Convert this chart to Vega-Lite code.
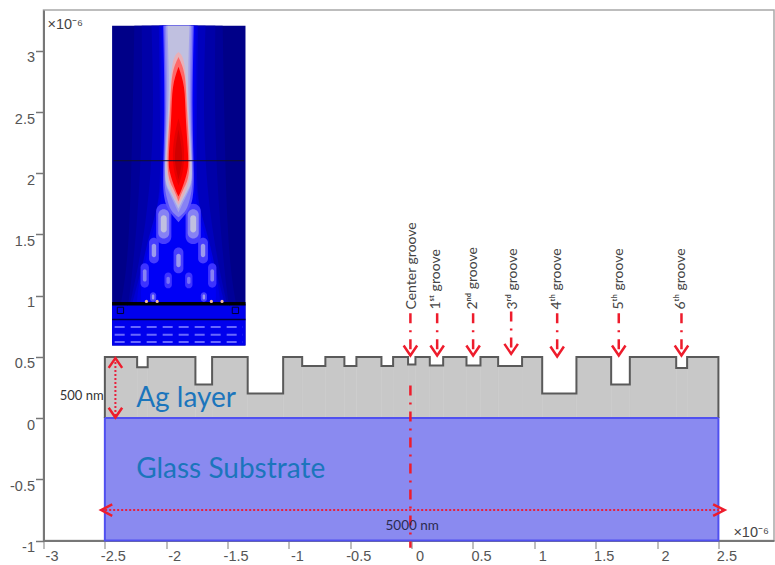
{"$schema":"https://vega.github.io/schema/vega-lite/v6.json","width":730.5,"height":530.5,"autosize":{"type":"none"},"padding":{"left":43.5,"top":10,"right":1,"bottom":24.5},"background":"#ffffff","config":{"view":{"stroke":"#a8a8a8","strokeWidth":1.5}},
"datasets":{
"glass":[{"x":-2.5,"x2":2.5,"y":-1,"y2":0}],
"silver":[{"x":-2.5,"x2":-2.237,"y":0.5,"y2":0},{"x":-2.237,"x2":-2.151,"y":0.416,"y2":0},{"x":-2.151,"x2":-1.762,"y":0.5,"y2":0},{"x":-1.762,"x2":-1.626,"y":0.275,"y2":0},{"x":-1.626,"x2":-1.336,"y":0.5,"y2":0},{"x":-1.336,"x2":-1.047,"y":0.2,"y2":0},{"x":-1.047,"x2":-0.892,"y":0.5,"y2":0},{"x":-0.892,"x2":-0.703,"y":0.425,"y2":0},{"x":-0.703,"x2":-0.548,"y":0.5,"y2":0},{"x":-0.548,"x2":-0.45,"y":0.425,"y2":0},{"x":-0.45,"x2":-0.246,"y":0.5,"y2":0},{"x":-0.246,"x2":-0.151,"y":0.425,"y2":0},{"x":-0.151,"x2":-0.029,"y":0.5,"y2":0},{"x":-0.029,"x2":0.031,"y":0.438,"y2":0},{"x":0.031,"x2":0.148,"y":0.5,"y2":0},{"x":0.148,"x2":0.257,"y":0.43,"y2":0},{"x":0.257,"x2":0.447,"y":0.5,"y2":0},{"x":0.447,"x2":0.561,"y":0.43,"y2":0},{"x":0.561,"x2":0.705,"y":0.5,"y2":0},{"x":0.705,"x2":0.9,"y":0.425,"y2":0},{"x":0.9,"x2":1.064,"y":0.5,"y2":0},{"x":1.064,"x2":1.343,"y":0.2,"y2":0},{"x":1.343,"x2":1.626,"y":0.5,"y2":0},{"x":1.626,"x2":1.778,"y":0.275,"y2":0},{"x":1.778,"x2":2.156,"y":0.5,"y2":0},{"x":2.156,"x2":2.245,"y":0.41,"y2":0},{"x":2.245,"x2":2.5,"y":0.5,"y2":0}],
"profile":[{"k":0,"x":-2.5,"y":0},{"k":1,"x":-2.5,"y":0.5},{"k":2,"x":-2.237,"y":0.5},{"k":3,"x":-2.237,"y":0.416},{"k":4,"x":-2.151,"y":0.416},{"k":5,"x":-2.151,"y":0.5},{"k":6,"x":-1.762,"y":0.5},{"k":7,"x":-1.762,"y":0.275},{"k":8,"x":-1.626,"y":0.275},{"k":9,"x":-1.626,"y":0.5},{"k":10,"x":-1.336,"y":0.5},{"k":11,"x":-1.336,"y":0.2},{"k":12,"x":-1.047,"y":0.2},{"k":13,"x":-1.047,"y":0.5},{"k":14,"x":-0.892,"y":0.5},{"k":15,"x":-0.892,"y":0.425},{"k":16,"x":-0.703,"y":0.425},{"k":17,"x":-0.703,"y":0.5},{"k":18,"x":-0.548,"y":0.5},{"k":19,"x":-0.548,"y":0.425},{"k":20,"x":-0.45,"y":0.425},{"k":21,"x":-0.45,"y":0.5},{"k":22,"x":-0.246,"y":0.5},{"k":23,"x":-0.246,"y":0.425},{"k":24,"x":-0.151,"y":0.425},{"k":25,"x":-0.151,"y":0.5},{"k":26,"x":-0.029,"y":0.5},{"k":27,"x":-0.029,"y":0.438},{"k":28,"x":0.031,"y":0.438},{"k":29,"x":0.031,"y":0.5},{"k":30,"x":0.148,"y":0.5},{"k":31,"x":0.148,"y":0.43},{"k":32,"x":0.257,"y":0.43},{"k":33,"x":0.257,"y":0.5},{"k":34,"x":0.447,"y":0.5},{"k":35,"x":0.447,"y":0.43},{"k":36,"x":0.561,"y":0.43},{"k":37,"x":0.561,"y":0.5},{"k":38,"x":0.705,"y":0.5},{"k":39,"x":0.705,"y":0.425},{"k":40,"x":0.9,"y":0.425},{"k":41,"x":0.9,"y":0.5},{"k":42,"x":1.064,"y":0.5},{"k":43,"x":1.064,"y":0.2},{"k":44,"x":1.343,"y":0.2},{"k":45,"x":1.343,"y":0.5},{"k":46,"x":1.626,"y":0.5},{"k":47,"x":1.626,"y":0.275},{"k":48,"x":1.778,"y":0.275},{"k":49,"x":1.778,"y":0.5},{"k":50,"x":2.156,"y":0.5},{"k":51,"x":2.156,"y":0.41},{"k":52,"x":2.245,"y":0.41},{"k":53,"x":2.245,"y":0.5},{"k":54,"x":2.5,"y":0.5},{"k":55,"x":2.5,"y":0}],
"dotted":[{"id":"h","k":0,"x":-2.414,"y":0.49},{"id":"h","k":1,"x":-2.414,"y":0.005},{"id":"w","k":0,"x":-2.53,"y":-0.751},{"id":"w","k":1,"x":2.55,"y":-0.751}],
"dashdot":[{"id":"axis","x":-0.01,"y":0.267},{"id":"axis","x":-0.01,"y":-1.06},{"id":"c","x":-0.01,"y":0.857},{"id":"c","x":-0.01,"y":0.52},{"id":"1","x":0.208,"y":0.857},{"id":"1","x":0.208,"y":0.52},{"id":"2","x":0.501,"y":0.857},{"id":"2","x":0.501,"y":0.52},{"id":"3","x":0.811,"y":0.87},{"id":"3","x":0.811,"y":0.53},{"id":"4","x":1.186,"y":0.857},{"id":"4","x":1.186,"y":0.51},{"id":"5","x":1.688,"y":0.857},{"id":"5","x":1.688,"y":0.52},{"id":"6","x":2.199,"y":0.857},{"id":"6","x":2.199,"y":0.52}],
"chevrons":[{"id":"a","k":0,"x":-2.469,"y":0.41},{"id":"a","k":1,"x":-2.414,"y":0.49},{"id":"a","k":2,"x":-2.359,"y":0.41},{"id":"b","k":0,"x":-2.469,"y":0.085},{"id":"b","k":1,"x":-2.414,"y":0.005},{"id":"b","k":2,"x":-2.359,"y":0.085},{"id":"l","k":0,"x":-2.44,"y":-0.704},{"id":"l","k":1,"x":-2.53,"y":-0.751},{"id":"l","k":2,"x":-2.44,"y":-0.798},{"id":"r","k":0,"x":2.457,"y":-0.704},{"id":"r","k":1,"x":2.55,"y":-0.751},{"id":"r","k":2,"x":2.457,"y":-0.798},{"id":"g0","k":0,"x":-0.065,"y":0.593},{"id":"g0","k":1,"x":-0.01,"y":0.512},{"id":"g0","k":2,"x":0.045,"y":0.593},{"id":"g1","k":0,"x":0.153,"y":0.593},{"id":"g1","k":1,"x":0.208,"y":0.512},{"id":"g1","k":2,"x":0.263,"y":0.593},{"id":"g2","k":0,"x":0.446,"y":0.593},{"id":"g2","k":1,"x":0.501,"y":0.512},{"id":"g2","k":2,"x":0.556,"y":0.593},{"id":"g3","k":0,"x":0.756,"y":0.606},{"id":"g3","k":1,"x":0.811,"y":0.525},{"id":"g3","k":2,"x":0.866,"y":0.606},{"id":"g4","k":0,"x":1.131,"y":0.585},{"id":"g4","k":1,"x":1.186,"y":0.504},{"id":"g4","k":2,"x":1.241,"y":0.585},{"id":"g5","k":0,"x":1.633,"y":0.593},{"id":"g5","k":1,"x":1.688,"y":0.512},{"id":"g5","k":2,"x":1.743,"y":0.593},{"id":"g6","k":0,"x":2.144,"y":0.593},{"id":"g6","k":1,"x":2.199,"y":0.512},{"id":"g6","k":2,"x":2.254,"y":0.593}],
"grooves":[{"t":"Center groove","x":0.007,"y":0.887},{"t":"1ˢᵗ groove","x":0.202,"y":0.887},{"t":"2ⁿᵈ groove","x":0.504,"y":0.887},{"t":"3ʳᵈ groove","x":0.822,"y":0.887},{"t":"4ᵗʰ groove","x":1.188,"y":0.887},{"t":"5ᵗʰ groove","x":1.693,"y":0.887},{"t":"6ᵗʰ groove","x":2.199,"y":0.887}],
"insetRects":[{"x":-2.441,"x2":-1.354,"y":0.594,"y2":3.205,"v":0},{"x":-2.441,"x2":-1.354,"y":0.594,"y2":0.934,"v":0.26}],
"halo":[
{"c":"A00","v":0.05,"y":3.205,"l":-2.26,"r":-1.54},{"c":"A00","v":0.05,"y":1.6,"l":-2.3,"r":-1.5},{"c":"A00","v":0.05,"y":0.93,"l":-2.37,"r":-1.43},
{"c":"A0","v":0.1,"y":3.205,"l":-2.2,"r":-1.6},{"c":"A0","v":0.1,"y":2.4,"l":-2.2,"r":-1.6},{"c":"A0","v":0.1,"y":1.6,"l":-2.24,"r":-1.56},{"c":"A0","v":0.1,"y":1.0,"l":-2.3,"r":-1.5},{"c":"A0","v":0.1,"y":0.93,"l":-2.32,"r":-1.48},
{"c":"A1b","v":0.15,"y":3.205,"l":-2.12,"r":-1.68},{"c":"A1b","v":0.15,"y":2.4,"l":-2.11,"r":-1.69},{"c":"A1b","v":0.15,"y":1.6,"l":-2.17,"r":-1.63},{"c":"A1b","v":0.15,"y":1.0,"l":-2.28,"r":-1.52},{"c":"A1b","v":0.15,"y":0.93,"l":-2.3,"r":-1.5},
{"c":"A1","v":0.2,"y":3.205,"l":-2.06,"r":-1.74},{"c":"A1","v":0.2,"y":2.4,"l":-2.05,"r":-1.75},{"c":"A1","v":0.2,"y":1.9,"l":-2.055,"r":-1.745},{"c":"A1","v":0.2,"y":1.6,"l":-2.1,"r":-1.7},{"c":"A1","v":0.2,"y":1.3,"l":-2.18,"r":-1.62},{"c":"A1","v":0.2,"y":1.0,"l":-2.26,"r":-1.54},{"c":"A1","v":0.2,"y":0.93,"l":-2.28,"r":-1.52},
{"c":"A2b","v":0.24,"y":3.205,"l":-2.048,"r":-1.752},{"c":"A2b","v":0.24,"y":2.4,"l":-2.037,"r":-1.763},{"c":"A2b","v":0.24,"y":1.95,"l":-2.042,"r":-1.758},{"c":"A2b","v":0.24,"y":1.7,"l":-2.08,"r":-1.72},{"c":"A2b","v":0.24,"y":1.4,"l":-2.16,"r":-1.64},{"c":"A2b","v":0.24,"y":1.1,"l":-2.22,"r":-1.58},{"c":"A2b","v":0.24,"y":0.93,"l":-2.24,"r":-1.56},
{"c":"A2","v":0.28,"y":3.205,"l":-2.035,"r":-1.765},{"c":"A2","v":0.28,"y":2.4,"l":-2.025,"r":-1.775},{"c":"A2","v":0.28,"y":1.95,"l":-2.03,"r":-1.77},{"c":"A2","v":0.28,"y":1.7,"l":-2.06,"r":-1.74},{"c":"A2","v":0.28,"y":1.4,"l":-2.14,"r":-1.66},{"c":"A2","v":0.28,"y":1.1,"l":-2.2,"r":-1.6},{"c":"A2","v":0.28,"y":0.93,"l":-2.2,"r":-1.6}
],
"lobes":[
{"x":-2.082,"x2":-1.958,"y":1.422,"y2":1.752,"v":0.34},{"x":-2.065,"x2":-1.975,"y":1.467,"y2":1.707,"v":0.42},{"x":-2.044,"x2":-1.996,"y":1.517,"y2":1.657,"v":0.5},
{"x":-1.842,"x2":-1.718,"y":1.422,"y2":1.752,"v":0.34},{"x":-1.825,"x2":-1.735,"y":1.467,"y2":1.707,"v":0.42},{"x":-1.804,"x2":-1.756,"y":1.517,"y2":1.657,"v":0.5},
{"x":-2.14,"x2":-2.06,"y":1.264,"y2":1.474,"v":0.34},{"x":-2.118,"x2":-2.082,"y":1.314,"y2":1.424,"v":0.45},
{"x":-1.74,"x2":-1.66,"y":1.264,"y2":1.474,"v":0.34},{"x":-1.718,"x2":-1.682,"y":1.314,"y2":1.424,"v":0.45},
{"x":-1.94,"x2":-1.86,"y":1.183,"y2":1.393,"v":0.34},{"x":-1.918,"x2":-1.882,"y":1.233,"y2":1.343,"v":0.45},
{"x":-2.209,"x2":-2.141,"y":1.065,"y2":1.265,"v":0.33},{"x":-2.19,"x2":-2.16,"y":1.115,"y2":1.215,"v":0.42},
{"x":-1.659,"x2":-1.591,"y":1.065,"y2":1.265,"v":0.33},{"x":-1.64,"x2":-1.61,"y":1.115,"y2":1.215,"v":0.42},
{"x":-2.014,"x2":-1.954,"y":1.06,"y2":1.19,"v":0.33},{"x":-1.998,"x2":-1.97,"y":1.095,"y2":1.155,"v":0.4},
{"x":-1.846,"x2":-1.786,"y":1.06,"y2":1.19,"v":0.33},{"x":-1.83,"x2":-1.802,"y":1.095,"y2":1.155,"v":0.4},
{"x":-2.132,"x2":-2.082,"y":0.949,"y2":1.029,"v":0.34},{"x":-2.117,"x2":-2.097,"y":0.969,"y2":1.009,"v":0.45},
{"x":-1.718,"x2":-1.668,"y":0.949,"y2":1.029,"v":0.34},{"x":-1.703,"x2":-1.683,"y":0.969,"y2":1.009,"v":0.45}
],
"beam":[
{"c":"B0","v":0.36,"y":3.205,"l":-2.025,"r":-1.775},{"c":"B0","v":0.36,"y":2.5,"l":-2.015,"r":-1.785},{"c":"B0","v":0.36,"y":2.0,"l":-2.025,"r":-1.775},{"c":"B0","v":0.36,"y":1.8,"l":-2.015,"r":-1.785},{"c":"B0","v":0.36,"y":1.7,"l":-1.98,"r":-1.82},{"c":"B0","v":0.36,"y":1.6,"l":-1.9,"r":-1.9},
{"c":"B1","v":0.42,"y":3.205,"l":-2.015,"r":-1.785},{"c":"B1","v":0.42,"y":2.5,"l":-2.005,"r":-1.795},{"c":"B1","v":0.42,"y":2.0,"l":-2.015,"r":-1.785},{"c":"B1","v":0.42,"y":1.8,"l":-1.995,"r":-1.805},{"c":"B1","v":0.42,"y":1.7,"l":-1.96,"r":-1.84},{"c":"B1","v":0.42,"y":1.64,"l":-1.9,"r":-1.9},
{"c":"B1b","v":0.46,"y":3.205,"l":-2.002,"r":-1.798},{"c":"B1b","v":0.46,"y":2.8,"l":-1.995,"r":-1.805},{"c":"B1b","v":0.46,"y":2.4,"l":-2.0,"r":-1.8},{"c":"B1b","v":0.46,"y":2.0,"l":-2.01,"r":-1.79},{"c":"B1b","v":0.46,"y":1.85,"l":-1.98,"r":-1.82},{"c":"B1b","v":0.46,"y":1.68,"l":-1.9,"r":-1.9},
{"c":"B2","v":0.5,"y":3.205,"l":-1.99,"r":-1.81},{"c":"B2","v":0.5,"y":2.8,"l":-1.98,"r":-1.82},{"c":"B2","v":0.5,"y":2.4,"l":-1.99,"r":-1.81},{"c":"B2","v":0.5,"y":2.0,"l":-2.008,"r":-1.792},{"c":"B2","v":0.5,"y":1.85,"l":-1.97,"r":-1.83},{"c":"B2","v":0.5,"y":1.71,"l":-1.9,"r":-1.9},
{"c":"B3","v":0.6,"y":2.99,"l":-1.9,"r":-1.9},{"c":"B3","v":0.6,"y":2.88,"l":-1.95,"r":-1.85},{"c":"B3","v":0.6,"y":2.5,"l":-1.977,"r":-1.823},{"c":"B3","v":0.6,"y":2.06,"l":-1.997,"r":-1.803},{"c":"B3","v":0.6,"y":1.85,"l":-1.955,"r":-1.845},{"c":"B3","v":0.6,"y":1.74,"l":-1.9,"r":-1.9},
{"c":"B4","v":0.7,"y":2.95,"l":-1.9,"r":-1.9},{"c":"B4","v":0.7,"y":2.8,"l":-1.95,"r":-1.85},{"c":"B4","v":0.7,"y":2.5,"l":-1.97,"r":-1.83},{"c":"B4","v":0.7,"y":2.06,"l":-1.988,"r":-1.812},{"c":"B4","v":0.7,"y":1.88,"l":-1.945,"r":-1.855},{"c":"B4","v":0.7,"y":1.77,"l":-1.9,"r":-1.9},
{"c":"B5","v":0.8,"y":2.87,"l":-1.9,"r":-1.9},{"c":"B5","v":0.8,"y":2.7,"l":-1.945,"r":-1.855},{"c":"B5","v":0.8,"y":2.45,"l":-1.96,"r":-1.84},{"c":"B5","v":0.8,"y":2.15,"l":-1.978,"r":-1.822},{"c":"B5","v":0.8,"y":2.0,"l":-1.968,"r":-1.832},{"c":"B5","v":0.8,"y":1.88,"l":-1.93,"r":-1.87},{"c":"B5","v":0.8,"y":1.81,"l":-1.9,"r":-1.9},
{"c":"B6","v":0.9,"y":2.45,"l":-1.9,"r":-1.9},{"c":"B6","v":0.9,"y":2.25,"l":-1.94,"r":-1.86},{"c":"B6","v":0.9,"y":2.05,"l":-1.94,"r":-1.86},{"c":"B6","v":0.9,"y":1.9,"l":-1.9,"r":-1.9},
{"c":"B7","v":1,"y":2.36,"l":-1.9,"r":-1.9},{"c":"B7","v":1,"y":2.2,"l":-1.925,"r":-1.875},{"c":"B7","v":1,"y":2.07,"l":-1.925,"r":-1.875},{"c":"B7","v":1,"y":1.95,"l":-1.9,"r":-1.9}
],
"insetBright":[{"x":-2.42,"x2":-1.375,"y":0.744},{"x":-2.42,"x2":-1.375,"y":0.681},{"x":-2.42,"x2":-1.375,"y":0.621}],
"insetDots":[{"x":-2.161,"y":0.953},{"x":-2.074,"y":0.953},{"x":-1.632,"y":0.953},{"x":-1.545,"y":0.953}],
"insetSquares":[{"x":-2.373,"y":0.88},{"x":-1.436,"y":0.88}],
"notes":[{"t":"×10⁻⁶","x":-2.968,"y":3.214},{"t":"×10⁻⁶","x":2.622,"y":-0.941}]
},
"layer":[
{"data":{"name":"glass"},"mark":{"type":"rect","fill":"#8a8af0","stroke":"#5050f0","strokeWidth":2},"encoding":{"x":{"field":"x","type":"quantitative","scale":{"domain":[-3,2.953],"nice":false,"zero":false},"title":null,"axis":{"values":[-3,-2.5,-2,-1.5,-1,-0.5,0,0.5,1,1.5,2,2.5],"labelExpr":"datum.value + ''","grid":false,"title":null,"domainColor":"#777777","domainWidth":2,"tickColor":"#aaaaaa","tickSize":8,"tickWidth":1.5,"labelColor":"#555555","labelFont":"Liberation Sans","labelFontSize":14.5,"labelOffset":8,"labelPadding":1,"labelFlush":false,"labelBound":false,"labelOverlap":false}},"x2":{"field":"x2"},"y":{"field":"y","type":"quantitative","scale":{"domain":[-1,3.334],"nice":false,"zero":false},"title":null,"axis":{"values":[-1,-0.5,0,0.5,1,1.5,2,2.5,3],"labelExpr":"datum.value + ''","grid":false,"title":null,"domainColor":"#777777","domainWidth":2,"tickColor":"#777777","tickSize":8,"tickWidth":1.5,"labelColor":"#555555","labelFont":"Liberation Sans","labelFontSize":14.5,"labelOffset":7,"labelPadding":1,"labelFlush":false,"labelBound":false,"labelOverlap":false}},"y2":{"field":"y2"}}},
{"data":{"name":"silver"},"mark":{"type":"rect","fill":"#c8c8c8","stroke":"#c8c8c8","strokeWidth":0.5},"encoding":{"x":{"field":"x","type":"quantitative"},"x2":{"field":"x2"},"y":{"field":"y","type":"quantitative"},"y2":{"field":"y2"}}},
{"data":{"name":"profile"},"mark":{"type":"line","color":"#5a5a5a","strokeWidth":2},"encoding":{"x":{"field":"x","type":"quantitative"},"y":{"field":"y","type":"quantitative"},"order":{"field":"k"}}},
{"data":{"name":"glass"},"mark":{"type":"rule","color":"#5050f0","strokeWidth":2},"encoding":{"x":{"field":"x","type":"quantitative"},"x2":{"field":"x2"},"y":{"field":"y2","type":"quantitative"}}},
{"data":{"name":"dotted"},"mark":{"type":"line","color":"#e8203c","strokeWidth":2,"strokeDash":[2,2]},"encoding":{"x":{"field":"x","type":"quantitative"},"y":{"field":"y","type":"quantitative"},"detail":{"field":"id"},"order":{"field":"k"}}},
{"data":{"name":"dashdot"},"mark":{"type":"line","color":"#ee1c2c","strokeWidth":2.5,"strokeDash":[10,7,2,7]},"encoding":{"x":{"field":"x","type":"quantitative"},"y":{"field":"y","type":"quantitative"},"detail":{"field":"id"}}},
{"data":{"name":"chevrons"},"mark":{"type":"line","color":"#ee1c2c","strokeWidth":2.5},"encoding":{"x":{"field":"x","type":"quantitative"},"y":{"field":"y","type":"quantitative"},"detail":{"field":"id"},"order":{"field":"k"}}},
{"data":{"values":[{"t":"Ag layer","x":-2.245,"y":0.155},{"t":"Glass Substrate","x":-2.245,"y":-0.427}]},"mark":{"type":"text","font":"Lato","fontSize":28,"align":"left","baseline":"middle","color":"#1b75bc"},"encoding":{"x":{"field":"x","type":"quantitative"},"y":{"field":"y","type":"quantitative"},"text":{"field":"t"}}},
{"data":{"values":[{"t":"500 nm","x":-2.51,"y":0.177}]},"mark":{"type":"text","font":"Lato","fontSize":13,"align":"right","baseline":"middle","color":"#333333"},"encoding":{"x":{"field":"x","type":"quantitative"},"y":{"field":"y","type":"quantitative"},"text":{"field":"t"}}},
{"data":{"values":[{"t":"5000 nm","x":0.005,"y":-0.884}]},"mark":{"type":"text","font":"Lato","fontSize":13.5,"align":"center","baseline":"middle","color":"#2a2a50"},"encoding":{"x":{"field":"x","type":"quantitative"},"y":{"field":"y","type":"quantitative"},"text":{"field":"t"}}},
{"data":{"name":"grooves"},"mark":{"type":"text","font":"Lato","fontSize":14,"align":"left","baseline":"middle","angle":270,"color":"#444444"},"encoding":{"x":{"field":"x","type":"quantitative"},"y":{"field":"y","type":"quantitative"},"text":{"field":"t"}}},
{"data":{"name":"notes"},"mark":{"type":"text","font":"Liberation Sans","fontSize":14.5,"align":"left","baseline":"middle","color":"#444444"},"encoding":{"x":{"field":"x","type":"quantitative"},"y":{"field":"y","type":"quantitative"},"text":{"field":"t"}}},
{"data":{"name":"insetRects"},"mark":{"type":"rect"},"encoding":{"x":{"field":"x","type":"quantitative"},"x2":{"field":"x2"},"y":{"field":"y","type":"quantitative"},"y2":{"field":"y2"},"color":{"field":"v","type":"quantitative","legend":null,"scale":{"domain":[0,0.1,0.3,0.5,0.6,0.7,0.8,1],"range":["#000088","#0000a8","#0000ff","#c0c0e0","#e8b0b8","#ff6868","#ff0000","#d00000"]}}}},
{"data":{"name":"halo"},"mark":{"type":"area","orient":"horizontal","interpolate":"natural"},"encoding":{"y":{"field":"y","type":"quantitative"},"x":{"field":"l","type":"quantitative"},"x2":{"field":"r"},"detail":{"field":"c"},"color":{"field":"v","type":"quantitative","legend":null}}},
{"data":{"name":"lobes"},"mark":{"type":"rect","cornerRadius":10},"encoding":{"x":{"field":"x","type":"quantitative"},"x2":{"field":"x2"},"y":{"field":"y","type":"quantitative"},"y2":{"field":"y2"},"color":{"field":"v","type":"quantitative","legend":null}}},
{"data":{"name":"beam"},"mark":{"type":"area","orient":"horizontal","interpolate":"natural"},"encoding":{"y":{"field":"y","type":"quantitative"},"x":{"field":"l","type":"quantitative"},"x2":{"field":"r"},"detail":{"field":"c"},"color":{"field":"v","type":"quantitative","legend":null}}},
{"data":{"name":"insetBright"},"mark":{"type":"rule","color":"#7a7aff","strokeWidth":2,"strokeDash":[10,6],"opacity":0.85},"encoding":{"x":{"field":"x","type":"quantitative"},"x2":{"field":"x2"},"y":{"field":"y","type":"quantitative"}}},
{"data":{"values":[{"x":-2.441,"x2":-1.354,"y":0.934}]},"mark":{"type":"rule","color":"#000000","strokeWidth":3.5},"encoding":{"x":{"field":"x","type":"quantitative"},"x2":{"field":"x2"},"y":{"field":"y","type":"quantitative"}}},
{"data":{"values":[{"x":-2.441,"x2":-1.354,"y":0.806}]},"mark":{"type":"rule","color":"#000040","strokeWidth":1.5},"encoding":{"x":{"field":"x","type":"quantitative"},"x2":{"field":"x2"},"y":{"field":"y","type":"quantitative"}}},
{"data":{"values":[{"x":-2.43,"x2":-1.365,"y":2.104}]},"mark":{"type":"rule","color":"#101030","strokeWidth":1.2,"opacity":0.8},"encoding":{"x":{"field":"x","type":"quantitative"},"x2":{"field":"x2"},"y":{"field":"y","type":"quantitative"}}},
{"data":{"name":"insetDots"},"mark":{"type":"point","filled":true,"color":"#f0b8a0","size":10,"opacity":1},"encoding":{"x":{"field":"x","type":"quantitative"},"y":{"field":"y","type":"quantitative"}}},
{"data":{"name":"insetSquares"},"mark":{"type":"point","shape":"square","filled":false,"color":"#000030","size":40,"strokeWidth":1,"opacity":1},"encoding":{"x":{"field":"x","type":"quantitative"},"y":{"field":"y","type":"quantitative"}}}
]}
